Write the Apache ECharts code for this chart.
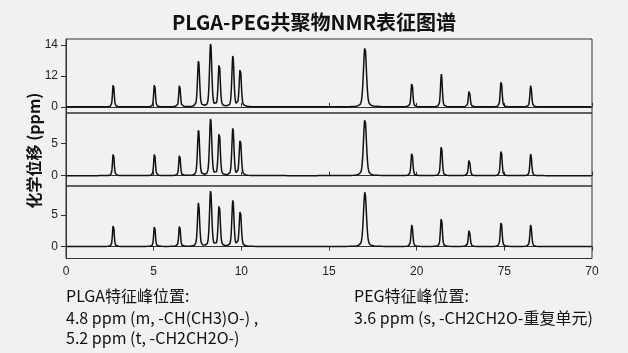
<!DOCTYPE html>
<html>
<head>
<meta charset="utf-8">
<script src="https://cdn.jsdelivr.net/npm/echarts@6/dist/echarts.min.js"></script>
<style>
html,body{margin:0;padding:0;background:#f1f1f0;}
#c{width:628px;height:353px;}
</style>
</head>
<body>
<div id="c"></div>
<script>
// ---- data ----
const titleText = 'PLGA-PEG共聚物NMR表征图谱';
const yAxisTitle = '化学位移 (ppm)';
const xTickLabels = ['0', '5', '10', '15', '20', '75', '70'];
const yTickValues1 = [0, 5, 10];
const yTickLabels1 = ['0', '12', '14'];
const yTickValues2 = [0, 5];
const yTickLabels2 = ['0', '5'];
const yTickValues3 = [0, 5];
const yTickLabels3 = ['0', '5'];
const peakPositions = [2.70, 5.05, 6.48, 7.56, 8.25, 8.74, 9.52, 9.94, 17.05, 19.73, 21.41, 23.00, 24.82, 26.51];
const peakWidths    = [0.055, 0.055, 0.055, 0.07, 0.075, 0.07, 0.07, 0.07, 0.10, 0.06, 0.06, 0.06, 0.06, 0.06];
const heights1 = [3.86, 3.86, 3.75, 7.49, 10.26, 7.05, 8.30, 6.24, 9.77, 4.00, 5.30, 2.70, 4.35, 3.50];
const heights2 = [3.60, 3.60, 3.40, 7.10, 8.83, 6.73, 7.36, 5.68, 8.83, 3.68, 4.78, 2.57, 4.05, 3.42];
const heights3 = [3.58, 3.42, 3.50, 7.00, 8.83, 6.68, 7.36, 5.73, 8.67, 3.50, 4.73, 2.73, 4.05, 3.50];
const plgaHeader = 'PLGA特征峰位置:';
const plgaLine1 = '4.8 ppm (m, -CH(CH3)O-) ,';
const plgaLine2 = '5.2 ppm (t, -CH2CH2O-)';
const pegHeader = 'PEG特征峰位置:';
const pegLine1 = '3.6 ppm (s, -CH2CH2O-重复单元)';

// ---- draw spectrum line from the peak list (pseudo-Voigt line shape) ----
function spectrum(heights) {
  const xs = [];
  for (let i = 0; i <= 3000; i++) xs.push(i / 100);
  peakPositions.forEach(p => xs.push(p));
  xs.sort((a, b) => a - b);
  return xs.map(x => {
    let y = 0;
    for (let k = 0; k < peakPositions.length; k++) {
      const d = (x - peakPositions[k]) / peakWidths[k];
      const g = Math.exp(-Math.LN2 * d * d);
      const l = 1 / (1 + d * d);
      y += heights[k] * (0.7 * g + 0.3 * l);
    }
    return [x, y];
  });
}

const font = '"Noto Sans CJK SC", "Noto Sans", sans-serif';
const axisFont = '"Liberation Sans", Arial, sans-serif';
const grids = [
  { left: 66, right: 36, top: 39, height: 74 },
  { left: 66, right: 36, top: 113, height: 73 },
  { left: 66, right: 36, top: 186, height: 72.5 }
];
const yRanges = [[-1, 11], [-1.6, 9.7], [-1.9, 9.6]];
const yVals = [yTickValues1, yTickValues2, yTickValues3];
const yLabs = [yTickLabels1, yTickLabels2, yTickLabels3];
const allHeights = [heights1, heights2, heights3];
const txt = '16px ' + font;

const option = {
  backgroundColor: '#f1f1f0',
  animation: false,
  title: {
    text: titleText, left: 'center', top: 7,
    textStyle: { fontFamily: font, fontSize: 20, fontWeight: 'bold', color: '#111' }
  },
  grid: grids.map(g => Object.assign({ show: true, borderColor: '#333', borderWidth: 1, backgroundColor: 'transparent' }, g)),
  xAxis: [0, 1, 2].map(i => ({
    type: 'value', gridIndex: i, min: 0, max: 30, interval: 5,
    axisLine: { show: true, lineStyle: { color: '#333', width: 1 } },
    axisTick: { show: true, inside: i < 2, length: 4, lineStyle: { color: '#333' } },
    splitLine: { show: false },
    axisLabel: {
      show: i === 2, margin: 7, fontFamily: axisFont, fontSize: 12, color: '#222',
      formatter: v => xTickLabels[Math.round(v / 5)]
    }
  })),
  yAxis: [0, 1, 2].map(i => ({
    type: 'value', gridIndex: i, min: yRanges[i][0], max: yRanges[i][1],
    axisLine: { show: true, lineStyle: { color: '#333', width: 1 } },
    axisTick: { show: true, length: 5, customValues: yVals[i], lineStyle: { color: '#333' } },
    splitLine: { show: false },
    axisLabel: {
      customValues: yVals[i], margin: 8, fontFamily: axisFont, fontSize: 12, color: '#222',
      formatter: v => yLabs[i][yVals[i].indexOf(v)]
    }
  })),
  series: [0, 1, 2].map(i => ({
    type: 'line', xAxisIndex: i, yAxisIndex: i, showSymbol: false, symbol: 'none',
    data: spectrum(allHeights[i]),
    lineStyle: { color: '#111', width: 1.5 },
    silent: true
  })),
  graphic: [
    { type: 'text', x: 34, y: 150.5, rotation: Math.PI / 2,
      style: { text: yAxisTitle, font: 'bold 16px ' + font, fill: '#111', textAlign: 'center', textVerticalAlign: 'middle' } },
    { type: 'text', x: 66, y: 296, style: { text: plgaHeader, font: txt, fill: '#111', textVerticalAlign: 'middle' } },
    { type: 'text', x: 66, y: 318, style: { text: plgaLine1, font: txt, fill: '#111', textVerticalAlign: 'middle' } },
    { type: 'text', x: 66, y: 338, style: { text: plgaLine2, font: txt, fill: '#111', textVerticalAlign: 'middle' } },
    { type: 'text', x: 354, y: 296, style: { text: pegHeader, font: txt, fill: '#111', textVerticalAlign: 'middle' } },
    { type: 'text', x: 354, y: 318, style: { text: pegLine1, font: txt, fill: '#111', textVerticalAlign: 'middle' } }
  ]
};
echarts.init(document.getElementById('c'), null, { renderer: 'canvas' }).setOption(option);
</script>
</body>
</html>
